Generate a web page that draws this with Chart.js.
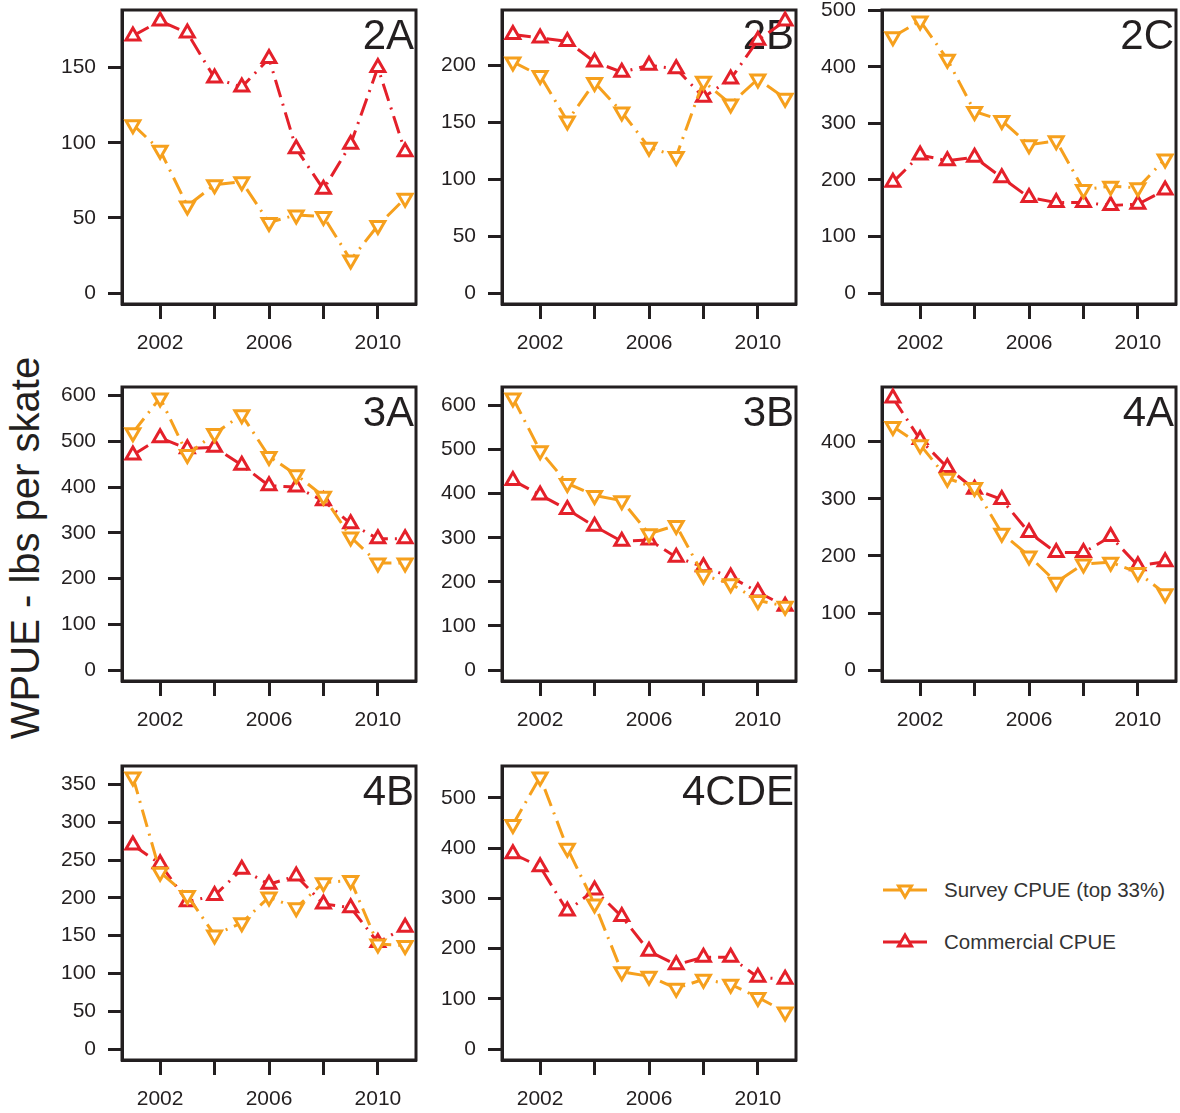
<!DOCTYPE html>
<html>
<head>
<meta charset="utf-8">
<script src="https://cdn.jsdelivr.net/npm/chart.js@4.4.1/dist/chart.umd.min.js"></script>
<style>
  html, body { margin: 0; padding: 0; background: #fff; overflow: hidden; }
  body { width: 1180px; height: 1113px; position: relative; font-family: Arial, "Liberation Sans", sans-serif; }
  canvas { position: absolute; }
  #ytitle {
    position: absolute; left: 25px; top: 548px;
    transform: translate(-50%, -50%) rotate(-90deg);
    font-size: 40px; color: #231f20; white-space: nowrap;
  }
  .leg { position: absolute; left: 883px; height: 24px; display: flex; align-items: center; font-size: 20.5px; color: #333; white-space: nowrap; }
  .leg svg { margin-right: 17px; }
</style>
</head>
<body>
<div id="ytitle">WPUE - lbs per skate</div>
<div class="leg" style="top:878px">
  <svg width="44" height="20"><line x1="0" y1="10" x2="44" y2="10" stroke="#f6a01d" stroke-width="3"/><polygon points="15.5,6 28.5,6 22,17" fill="#fff" stroke="#f6a01d" stroke-width="3"/></svg>
  <span>Survey CPUE (top 33%)</span>
</div>
<div class="leg" style="top:930px">
  <svg width="44" height="20"><line x1="0" y1="10" x2="44" y2="10" stroke="#e4202a" stroke-width="3"/><polygon points="22,3 28.5,14 15.5,14" fill="#fff" stroke="#e4202a" stroke-width="3"/></svg>
  <span>Commercial CPUE</span>
</div>
<script>
const years = [2001, 2002, 2003, 2004, 2005, 2006, 2007, 2008, 2009, 2010, 2011];
const panelNames = ['2A', '2B', '2C', '3A', '3B', '4A', '4B', '4CDE'];
const yStep = [50, 50, 100, 100, 100, 100, 50, 100];
const xTickYears = [2002, 2004, 2006, 2008, 2010];
const xLabelYears = [2002, 2006, 2010];

const survey2A = [112, 95, 58, 72, 74, 47, 52, 51, 22, 45, 63];
const commercial2A = [171, 181, 173, 143, 137, 156, 96, 69, 99, 150, 94];
const survey2B = [203, 191, 151, 185, 159, 128, 120, 186, 166, 188, 171];
const commercial2B = [227, 224, 221, 203, 194, 200, 197, 172, 188, 222, 239];
const survey2C = [453, 481, 413, 321, 305, 262, 269, 183, 189, 186, 237];
const commercial2C = [196, 244, 234, 240, 204, 169, 160, 160, 155, 157, 182];
const survey3A = [519, 595, 471, 517, 558, 467, 427, 380, 291, 234, 234];
const commercial3A = [470, 508, 484, 487, 448, 403, 400, 370, 320, 287, 287];
const survey3B = [617, 497, 423, 396, 384, 309, 328, 215, 196, 158, 145];
const commercial3B = [430, 397, 364, 326, 292, 295, 256, 234, 211, 177, 145];
const survey4A = [427, 395, 336, 320, 240, 200, 154, 186, 189, 171, 134];
const commercial4A = [477, 404, 355, 317, 299, 241, 206, 206, 234, 183, 190];
const survey4B = [360, 234, 203, 151, 167, 201, 187, 220, 223, 139, 137];
const commercial4B = [270, 245, 195, 203, 238, 218, 229, 192, 187, 141, 161];
const survey4CDE = [447, 542, 400, 289, 154, 145, 121, 139, 129, 103, 74];
const commercial4CDE = [389, 363, 275, 317, 264, 195, 168, 183, 183, 143, 139];

const surveySeries = [survey2A, survey2B, survey2C, survey3A, survey3B, survey4A, survey4B, survey4CDE];
const commercialSeries = [commercial2A, commercial2B, commercial2C, commercial3A, commercial3B, commercial4A, commercial4B, commercial4CDE];

const ORANGE = '#f6a01d';
const RED = '#e4202a';
const INK = '#231f20';
const FONT = 'Arial, "Liberation Sans", sans-serif';

// plot area placement
const colLeft = [122, 502, 882];
const rowTop = [10, 387, 766];
const AREA_W = 295, AREA_H = 294;
// y axis asks for tick padding + half a label above the area, so keep PAD_T above that
const Y_AXIS_W = 75, X_AXIS_H = 55, PAD_T = 26, PAD_R = 10;

const boxPlugin = {
  id: 'box',
  beforeDatasetsDraw(chart, args, opts) {
    const { ctx, chartArea: a } = chart;
    ctx.save();
    ctx.strokeStyle = INK;
    ctx.lineWidth = 3;
    ctx.strokeRect(a.left, a.top, a.right - a.left, a.bottom - a.top);
    ctx.fillStyle = INK;
    ctx.font = '42px ' + FONT;
    ctx.textAlign = 'right';
    ctx.textBaseline = 'top';
    ctx.fillText(opts.label, a.right - 2, a.top + 6);
    ctx.restore();
  }
};

const toPoints = vals => vals.map((v, i) => ({ x: years[i], y: v }));

panelNames.forEach((name, i) => {
  const col = i % 3, row = Math.floor(i / 3);
  const canvas = document.createElement('canvas');
  const w = Y_AXIS_W + AREA_W + PAD_R;
  const h = PAD_T + AREA_H + X_AXIS_H;
  canvas.width = w;
  canvas.height = h;
  canvas.style.left = (colLeft[col] - Y_AXIS_W) + 'px';
  canvas.style.top = (rowTop[row] - PAD_T) + 'px';
  canvas.style.width = w + 'px';
  canvas.style.height = h + 'px';
  document.body.appendChild(canvas);

  // R style range: data max padded by 4% on both ends
  const maxVal = Math.max(...surveySeries[i], ...commercialSeries[i]);
  const step = yStep[i];

  new Chart(canvas.getContext('2d'), {
    type: 'line',
    data: {
      datasets: [
        {
          label: 'Survey CPUE (top 33%)',
          data: toPoints(surveySeries[i]),
          borderColor: ORANGE,
          borderWidth: 3,
          borderDash: [18, 7, 2, 7],
          pointStyle: 'triangle',
          rotation: 180,
          pointRadius: 8,
          pointBorderWidth: 3,
          pointBorderColor: ORANGE,
          pointBackgroundColor: '#fff',
          clip: false
        },
        {
          label: 'Commercial CPUE',
          data: toPoints(commercialSeries[i]),
          borderColor: RED,
          borderWidth: 3,
          borderDash: [18, 7, 2, 7],
          pointStyle: 'triangle',
          pointRadius: 8,
          pointBorderWidth: 3,
          pointBorderColor: RED,
          pointBackgroundColor: '#fff',
          clip: false
        }
      ]
    },
    options: {
      responsive: false,
      animation: false,
      layout: { padding: { top: PAD_T, right: PAD_R, left: 0, bottom: 0 } },
      plugins: {
        legend: { display: false },
        tooltip: { enabled: false },
        box: { label: name }
      },
      scales: {
        x: {
          type: 'linear',
          min: 2000.6,
          max: 2011.4,
          afterBuildTicks: scale => { scale.ticks = xTickYears.map(v => ({ value: v })); },
          afterFit: scale => { scale.height = X_AXIS_H; },
          ticks: {
            autoSkip: false,
            maxRotation: 0,
            padding: 12,
            color: INK,
            font: { family: FONT, size: 21 },
            callback: v => xLabelYears.includes(v) ? String(v) : ''
          },
          grid: { drawOnChartArea: false, drawTicks: true, tickLength: 15, tickWidth: 3, tickColor: INK },
          border: { display: true, width: 3, color: INK }
        },
        y: {
          min: -0.04 * maxVal,
          max: 1.04 * maxVal,
          afterBuildTicks: scale => {
            const t = [];
            for (let v = 0; v <= maxVal * 1.04; v += step) t.push({ value: v });
            scale.ticks = t;
          },
          afterFit: scale => { scale.width = Y_AXIS_W; },
          ticks: {
            padding: 12,
            color: INK,
            font: { family: FONT, size: 21 },
            callback: v => String(v)
          },
          grid: { drawOnChartArea: false, drawTicks: true, tickLength: 14, tickWidth: 3, tickColor: INK },
          border: { display: true, width: 3, color: INK }
        }
      }
    },
    plugins: [boxPlugin]
  });
});
</script>
</body>
</html>
